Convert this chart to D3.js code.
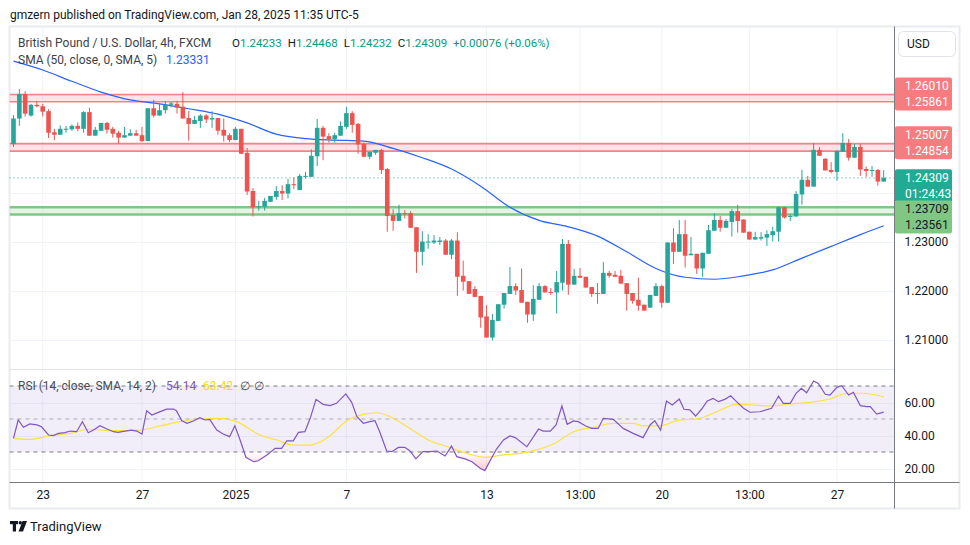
<!DOCTYPE html>
<html><head><meta charset="utf-8">
<script src="https://cdn.jsdelivr.net/npm/d3@7"></script>
<style>body{margin:0;background:#fff}svg{display:block;font-family:Roboto,"Liberation Sans",Arial,sans-serif}</style>
</head><body><svg id="c" width="970" height="545"></svg>
<script>
// ---------------- DATA ----------------
const opens = [1.2500,1.2552,1.2602,1.2558,1.2580,1.2577,1.2567,1.2524,1.2519,1.2529,
1.2530,1.2537,1.2531,1.2565,1.2517,1.2527,1.2543,1.2531,1.2523,1.2513,
1.2517,1.2522,1.2518,1.2506,1.2573,1.2558,1.2569,1.2580,1.2582,1.2576,
1.2553,1.2541,1.2547,1.2558,1.2550,1.2553,1.2529,1.2518,1.2508,1.2531,
1.2482,1.2404,1.2371,1.2372,1.2382,1.2392,1.2404,1.2399,1.2418,1.2406,
1.2433,1.2433,1.2475,1.2533,1.2516,1.2510,1.2517,1.2535,1.2563,1.2541,
1.2500,1.2474,1.2482,1.2488,1.2449,1.2355,1.2343,1.2359,1.2359,1.2330,
1.2280,1.2299,1.2299,1.2300,1.2303,1.2274,1.2303,1.2231,1.2220,1.2204,
1.2190,1.2148,1.2105,1.2139,1.2172,1.2194,1.2210,1.2202,1.2178,1.2152,
1.2182,1.2210,1.2198,1.2197,1.2217,1.2296,1.2213,1.2231,1.2229,1.2208,
1.2196,1.2194,1.2237,1.2233,1.2231,1.2216,1.2196,1.2182,1.2172,1.2166,
1.2190,1.2210,1.2176,1.2299,1.2280,1.2316,1.2273,1.2276,1.2246,1.2276,
1.2323,1.2345,1.2329,1.2341,1.2363,1.2346,1.2321,1.2305,1.2307,1.2309,
1.2314,1.2321,1.2371,1.2351,1.2352,1.2397,1.2427,1.2413,1.2488,1.2470,
1.2447,1.2443,1.2484,1.2502,1.2472,1.2494,1.2449,1.2445,1.2447,1.24233];
const highs = [1.2559,1.2612,1.2608,1.2582,1.2588,1.2582,1.2571,1.2531,1.2538,1.2537,
1.2540,1.2544,1.2567,1.2574,1.2535,1.2543,1.2545,1.2535,1.2527,1.2535,
1.2530,1.2529,1.2535,1.2573,1.2590,1.2582,1.2588,1.2586,1.2588,1.2606,
1.2567,1.2557,1.2561,1.2561,1.2567,1.2553,1.2552,1.2522,1.2535,1.2531,
1.2492,1.2410,1.2384,1.2390,1.2394,1.2414,1.2416,1.2429,1.2432,1.2439,
1.2443,1.2489,1.2551,1.2537,1.2522,1.2523,1.2546,1.2576,1.2567,1.2543,
1.2503,1.2484,1.2488,1.2490,1.2451,1.2367,1.2376,1.2365,1.2363,1.2330,
1.2322,1.2316,1.2314,1.2310,1.2306,1.2306,1.2320,1.2262,1.2220,1.2210,
1.2190,1.2171,1.2153,1.2173,1.2196,1.2249,1.2216,1.2246,1.2178,1.2212,
1.2216,1.2212,1.2206,1.2241,1.2306,1.2304,1.2245,1.2247,1.2229,1.2208,
1.2216,1.2259,1.2241,1.2241,1.2243,1.2216,1.2196,1.2227,1.2172,1.2192,
1.2216,1.2213,1.2299,1.2328,1.2345,1.2345,1.2310,1.2276,1.2278,1.2335,
1.2359,1.2353,1.2347,1.2367,1.2376,1.2346,1.2321,1.2321,1.2320,1.2324,
1.2331,1.2371,1.2371,1.2357,1.2404,1.2447,1.2435,1.2502,1.2494,1.2471,
1.2463,1.2486,1.2522,1.2510,1.2500,1.2500,1.2454,1.2455,1.2449,1.24468];
const lows = [1.2494,1.2537,1.2556,1.2556,1.2575,1.2556,1.2512,1.2508,1.2519,1.2523,
1.2527,1.2526,1.2523,1.2517,1.2517,1.2527,1.2521,1.2513,1.2501,1.2513,
1.2517,1.2517,1.2504,1.2506,1.2554,1.2558,1.2562,1.2575,1.2562,1.2552,
1.2507,1.2541,1.2533,1.2543,1.2533,1.2519,1.2505,1.2504,1.2508,1.2480,
1.2396,1.2352,1.2364,1.2364,1.2382,1.2386,1.2386,1.2389,1.2408,1.2406,
1.2430,1.2433,1.2455,1.2467,1.2503,1.2503,1.2517,1.2531,1.2523,1.2480,
1.2474,1.2469,1.2478,1.2439,1.2321,1.2323,1.2343,1.2348,1.2329,1.2237,
1.2252,1.2286,1.2296,1.2294,1.2274,1.2265,1.2190,1.2201,1.2194,1.2188,
1.2125,1.2105,1.2099,1.2139,1.2164,1.2194,1.2192,1.2176,1.2135,1.2139,
1.2182,1.2197,1.2192,1.2154,1.2201,1.2192,1.2213,1.2227,1.2207,1.2188,
1.2174,1.2194,1.2227,1.2229,1.2215,1.2160,1.2174,1.2160,1.2160,1.2166,
1.2190,1.2166,1.2176,1.2255,1.2280,1.2248,1.2273,1.2235,1.2229,1.2276,
1.2323,1.2321,1.2329,1.2311,1.2319,1.2319,1.2305,1.2305,1.2303,1.2292,
1.2301,1.2301,1.2348,1.2343,1.2352,1.2376,1.2413,1.2413,1.2476,1.2446,
1.2440,1.2425,1.2484,1.2466,1.2472,1.2435,1.2433,1.2433,1.2415,1.24232];
const closes = [1.2552,1.2602,1.2562,1.2580,1.2577,1.2566,1.2523,1.2519,1.2531,1.2531,
1.2537,1.2531,1.2565,1.2517,1.2529,1.2543,1.2529,1.2521,1.2513,1.2518,
1.2522,1.2517,1.2506,1.2573,1.2558,1.2569,1.2580,1.2583,1.2574,1.2552,
1.2541,1.2549,1.2558,1.2550,1.2553,1.2527,1.2517,1.2508,1.2531,1.2480,
1.2403,1.2371,1.2373,1.2384,1.2394,1.2404,1.2399,1.2418,1.2417,1.2435,
1.2435,1.2476,1.2533,1.2515,1.2510,1.2518,1.2537,1.2563,1.2539,1.2499,
1.2474,1.2484,1.2488,1.2447,1.2353,1.2343,1.2359,1.2357,1.2329,1.2280,
1.2301,1.2301,1.2303,1.2303,1.2274,1.2303,1.2229,1.2219,1.2194,1.2188,
1.2146,1.2105,1.2141,1.2173,1.2196,1.2210,1.2201,1.2176,1.2152,1.2184,
1.2210,1.2197,1.2197,1.2218,1.2296,1.2213,1.2231,1.2227,1.2207,1.2194,
1.2194,1.2237,1.2231,1.2229,1.2215,1.2194,1.2180,1.2170,1.2160,1.2192,
1.2210,1.2176,1.2299,1.2280,1.2316,1.2272,1.2276,1.2246,1.2278,1.2324,
1.2345,1.2329,1.2343,1.2363,1.2343,1.2319,1.2305,1.2310,1.2310,1.2316,
1.2322,1.2371,1.2350,1.2353,1.2398,1.2427,1.2413,1.2488,1.2476,1.2446,
1.2443,1.2486,1.2502,1.2472,1.2494,1.2448,1.2445,1.2447,1.24233,1.24309];

// SMA(50) at candle indices
const smaIdx = [0,5,10,15,20,25,30,35,40,45,50,55,60,65,70,75,80,85,90,95,100,105,110,115,120,125,130,135,140,145,149];
const smaVal = [1.2669,1.2651,1.2628,1.2606,1.2590,1.2582,1.2572,1.2561,1.2543,1.2520,1.2511,1.2508,1.2506,1.2491,1.2472,1.2449,1.2414,1.2371,1.2344,1.2331,1.2312,1.2280,1.2246,1.2228,1.2224,1.2231,1.2243,1.2267,1.2291,1.2315,1.23331];

const rsiIdx = [0,0.8,1.7,2.8,4,4.8,6,6.8,7.7,8.8,9.7,10.8,11.8,12.8,13.7,14.8,16,17.1,17.9,19.1,20.2,21.1,22,22.8,23.7,24.8,26.2,27.4,27.9,28.8,29.7,30.8,31.9,32.8,33.6,34.8,35.9,37,37.9,38.8,39.8,41.1,41.9,43.4,44.8,45.9,46.8,47.9,48.8,49.9,50.8,51.8,53,54.2,55.3,56.9,57.9,58.8,59.9,61,61.9,62.7,63.9,64.8,65.9,67,67.9,68.9,70.1,71.3,72.5,73.9,75,75.9,77.3,78.5,79.9,80.7,82.7,83.9,85,85.9,87.9,89.9,90.7,91.9,92.9,93.9,94.8,95.9,96.7,97.9,99,100.1,101,102.7,104.4,106.1,107.8,109,109.8,110.8,111.8,112.8,114,114.8,115.8,116.8,117.8,118.8,119.8,120.7,121.8,122.8,123.8,125,126.1,127.8,129.8,131,131.8,133,134,134.9,135.8,137,137.8,139,139.8,141,141.8,143,143.8,145,146.1,146.7,147.8,149];
const rsiVal = [38.3,49.4,45,47,46.4,45.3,40.3,39.9,41.3,41.7,42.7,42.3,48.4,41.7,43.3,45.9,43.9,42.3,41.9,42.7,43.3,42.7,40.9,55,52.4,54,56,56,55,49,47.4,48.8,50.8,49.4,49.8,43.3,40.9,39.3,45.9,37.3,26.8,24.1,24.7,28.2,32.2,32.2,36.8,36.8,41.9,42.3,50.4,61.9,58.9,58.1,59.5,65.2,60.1,51.4,47.4,48.4,49,42.3,30.6,30.2,32.8,32.8,30.6,25.8,30.2,30.2,30.6,27.6,33.6,27.2,25.8,24.1,20.1,18.7,31.8,37.3,39.7,38.7,33.2,43.9,42.7,42.7,46.4,57.9,46.8,48.8,48.4,45.9,44.3,44.3,50.4,49.8,44.3,41.3,38.7,46.4,49,43.3,60.9,58.5,62.1,55.9,55.5,51.8,55.9,60.9,62.5,60.5,61.9,64.1,60.5,56.5,54.1,54.4,56.5,63.9,59.5,59.5,65.6,68.6,65.9,73,71.6,65,64.5,69.2,70.2,64.5,66.2,58.1,57.5,57.5,53,54.14];
const rsiMaIdx = [0,2.8,6.3,9.7,13.1,16.5,21.7,25.1,28.5,31.9,35.4,38.2,42.2,45.1,47.9,50.8,53.6,57.1,59.9,62.2,64.5,67.9,71.3,74.7,77.6,80.7,83.9,88.4,92.4,95.9,99.3,102.7,106.1,107.8,110.7,113.6,117.5,120.4,123.8,126.7,129.5,133,136.4,139.8,142.7,145.5,149];
const rsiMaVal = [38.3,37.7,39.9,41.3,43.8,42.9,43.3,45.8,48.4,50,50.4,48.4,40.3,37.3,34.2,34.2,38.3,49,52.8,53.8,51.4,44.3,36.8,32.8,29.2,26.8,28.2,30.2,34.8,42.3,45,47.4,47.4,45.8,45.8,49,50.4,54.4,58.9,58.5,57.9,59.1,60.1,62.1,65.6,65.6,63.42];

// support / resistance zones
const zoneTop = [1.26010, 1.25007, 1.23709];
const zoneBot = [1.25861, 1.24854, 1.23561];
const zoneKind = ["res", "res", "sup"];

// axes
const priceTicks = [1.21, 1.22, 1.23];
const priceGrid = [1.21, 1.22, 1.23, 1.24, 1.25, 1.26];
const rsiTicks = [20, 40, 60];
const xTickIdx = [5, 22, 38, 57, 81, 97, 111, 126, 141];
const xTickLabels = ["23", "27", "2025", "7", "13", "13:00", "20", "13:00", "27"];
const smaLast = 1.23331;
const countdown = "01:24:43";

// ---------------- DRAW ----------------
const svg = d3.select("#c");
const N = closes.length;
const PL = 9.5, PR = 894.5, PT = 26.5, SEP = 369.5, XB = 482.5, FB = 508.5, FR = 959.5;
const UP = "#26a69a", DN = "#ef5350";
const F = 'Roboto,"Liberation Sans",Arial,sans-serif';

const xs = d3.scaleLinear().domain([0, 149]).range([13.5, 883.7]);
const yp = d3.scaleLinear().domain([1.21, 1.26]).range([340, 95]);
const yr = d3.scaleLinear().domain([30, 70]).range([452, 386]);

svg.append("rect").attr("width", 970).attr("height", 545).attr("fill", "#fff");

// header
svg.append("text").attr("x", 10).attr("y", 19).attr("font-size", 12).attr("fill", "#131722")
  .text("gmzern published on TradingView.com, Jan 28, 2025 11:35 UTC-5");

// frame
svg.append("rect").attr("x", PL).attr("y", PT).attr("width", FR - PL).attr("height", FB - PT)
  .attr("fill", "none").attr("stroke", "#e9ebf0").attr("stroke-width", 2);

const defs = svg.append("defs");
defs.append("clipPath").attr("id", "pc").append("rect").attr("x", PL).attr("y", PT).attr("width", PR - PL).attr("height", SEP - PT);
defs.append("clipPath").attr("id", "rc").append("rect").attr("x", PL).attr("y", SEP).attr("width", PR - PL).attr("height", XB - SEP);
defs.append("clipPath").attr("id", "below30").append("rect").attr("x", PL).attr("y", yr(30)).attr("width", PR - PL).attr("height", XB - yr(30));
defs.append("clipPath").attr("id", "above70").append("rect").attr("x", PL).attr("y", SEP).attr("width", PR - PL).attr("height", yr(70) - SEP);
const gLow = defs.append("linearGradient").attr("id", "gLow").attr("gradientUnits", "userSpaceOnUse")
  .attr("x1", 0).attr("x2", 0).attr("y1", yr(30)).attr("y2", yr(15));
gLow.append("stop").attr("offset", 0).attr("stop-color", "rgba(242,54,69,0)");
gLow.append("stop").attr("offset", 1).attr("stop-color", "rgba(242,54,69,0.35)");
const gHigh = defs.append("linearGradient").attr("id", "gHigh").attr("gradientUnits", "userSpaceOnUse")
  .attr("x1", 0).attr("x2", 0).attr("y1", yr(70)).attr("y2", yr(85));
gHigh.append("stop").attr("offset", 0).attr("stop-color", "rgba(8,153,129,0)");
gHigh.append("stop").attr("offset", 1).attr("stop-color", "rgba(8,153,129,0.35)");

// vertical grid
svg.append("g").selectAll("line").data(xTickIdx).join("line")
  .attr("x1", d => xs(d)).attr("x2", d => xs(d)).attr("y1", PT).attr("y2", XB)
  .attr("stroke", "#f0f3fa").attr("stroke-width", 1);
// horizontal price grid
svg.append("g").selectAll("line").data(priceGrid).join("line")
  .attr("x1", PL).attr("x2", PR).attr("y1", d => Math.round(yp(d)) + 0.5).attr("y2", d => Math.round(yp(d)) + 0.5)
  .attr("stroke", "#f0f3fa");
// rsi grid
svg.append("g").selectAll("line").data(rsiTicks).join("line")
  .attr("x1", PL).attr("x2", PR).attr("y1", d => Math.round(yr(d)) + 0.5).attr("y2", d => Math.round(yr(d)) + 0.5)
  .attr("stroke", "#f0f3fa");

// pane separator
svg.append("line").attr("x1", PL).attr("x2", PR).attr("y1", SEP).attr("y2", SEP).attr("stroke", "#e0e3eb");

// zones
const zg = svg.append("g").attr("clip-path", "url(#pc)");
zoneTop.forEach((t, k) => {
  const res = zoneKind[k] === "res";
  const y1 = yp(t), y2 = yp(zoneBot[k]);
  zg.append("rect").attr("x", PL).attr("width", PR - PL).attr("y", y1).attr("height", y2 - y1)
    .attr("fill", res ? "rgba(242,54,69,0.13)" : "rgba(76,175,80,0.14)");
  [y1, y2].forEach(y => zg.append("line").attr("x1", PL).attr("x2", PR).attr("y1", y).attr("y2", y)
    .attr("stroke", res ? "#f28387" : "#81c784").attr("stroke-width", res ? 1.6 : 2.4));
});

// last price dotted line
const lastC = closes[N - 1];
svg.append("line").attr("x1", PL).attr("x2", PR).attr("y1", yp(lastC)).attr("y2", yp(lastC))
  .attr("stroke", "#22ab94").attr("stroke-width", 1).attr("stroke-dasharray", "1,3");

// SMA line
svg.append("path").attr("clip-path", "url(#pc)")
  .datum(smaIdx.map((d, k) => [d, smaVal[k]]))
  .attr("fill", "none").attr("stroke", "#2962ff").attr("stroke-width", 1.2)
  .attr("d", d3.line().x(d => xs(d[0])).y(d => yp(d[1])).curve(d3.curveMonotoneX));

// candles
const cg = svg.append("g").attr("clip-path", "url(#pc)");
const idx = d3.range(N);
const bw = 4.6;
cg.selectAll("line.w").data(idx).join("line").attr("class", "w")
  .attr("x1", i => xs(i)).attr("x2", i => xs(i))
  .attr("y1", i => yp(highs[i])).attr("y2", i => yp(lows[i]))
  .attr("stroke", i => closes[i] >= opens[i] ? UP : DN).attr("stroke-width", 1);
cg.selectAll("rect.b").data(idx).join("rect").attr("class", "b")
  .attr("x", i => xs(i) - bw / 2).attr("width", bw)
  .attr("y", i => yp(Math.max(opens[i], closes[i])))
  .attr("height", i => Math.max(1, Math.abs(yp(opens[i]) - yp(closes[i]))))
  .attr("fill", i => closes[i] >= opens[i] ? UP : DN);

// legends
const chg = closes[N - 1] - closes[N - 2];
const pct = chg / closes[N - 2] * 100;
const lg = svg.append("text").attr("y", 46.5).attr("font-size", 11.5).attr("fill", "#131722");
lg.append("tspan").attr("x", 18).attr("font-size", 12).attr("fill", "#3b3f4a").text("British Pound / U.S. Dollar, 4h, FXCM");
[["O", opens[N - 1]], ["H", highs[N - 1]], ["L", lows[N - 1]], ["C", closes[N - 1]]].forEach((p, k) => {
  const t = lg.append("tspan").text(p[0]);
  if (k === 0) t.attr("x", 232); else t.attr("dx", 6);
  lg.append("tspan").attr("fill", "#089981").text(d3.format(".5f")(p[1]));
});
lg.append("tspan").attr("dx", 6).attr("fill", "#089981")
  .text((chg >= 0 ? "+" : "") + d3.format(".5f")(chg) + " (" + (pct >= 0 ? "+" : "") + d3.format(".2f")(pct) + "%)");

const sl = svg.append("text").attr("y", 63.5).attr("font-size", 12).attr("fill", "#3b3f4a");
sl.append("tspan").attr("x", 18).text("SMA (50, close, 0, SMA, 5)");
sl.append("tspan").attr("x", 166).attr("fill", "#2962ff").text(d3.format(".5f")(smaLast));

// ---- RSI pane ----
const rg = svg.append("g").attr("clip-path", "url(#rc)");
rg.append("rect").attr("x", PL).attr("width", PR - PL).attr("y", yr(70)).attr("height", yr(30) - yr(70))
  .attr("fill", "rgba(126,87,194,0.1)");
const rsiPts = rsiIdx.map((d, k) => [d, rsiVal[k]]);
rg.append("path").datum(rsiPts).attr("clip-path", "url(#below30)").attr("fill", "url(#gLow)")
  .attr("d", d3.area().x(d => xs(d[0])).y0(yr(30)).y1(d => yr(d[1])));
rg.append("path").datum(rsiPts).attr("clip-path", "url(#above70)").attr("fill", "url(#gHigh)")
  .attr("d", d3.area().x(d => xs(d[0])).y0(yr(70)).y1(d => yr(d[1])));
[[70, "#787b86", 1], [50, "#a8abb4", 1], [30, "#787b86", 1]].forEach(b => {
  rg.append("line").attr("x1", PL).attr("x2", PR).attr("y1", yr(b[0])).attr("y2", yr(b[0]))
    .attr("stroke", b[1]).attr("stroke-dasharray", "4,4").attr("stroke-width", b[2]);
});
rg.append("path").datum(rsiMaIdx.map((d, k) => [d, rsiMaVal[k]]))
  .attr("fill", "none").attr("stroke", "#fbe33c").attr("stroke-width", 1.2)
  .attr("d", d3.line().x(d => xs(d[0])).y(d => yr(d[1])).curve(d3.curveMonotoneX));
rg.append("path").datum(rsiPts)
  .attr("fill", "none").attr("stroke", "#7e57c2").attr("stroke-width", 1.2)
  .attr("d", d3.line().x(d => xs(d[0])).y(d => yr(d[1])));

const rl = svg.append("text").attr("y", 389.5).attr("font-size", 12).attr("fill", "#4a4e5a");
rl.append("tspan").attr("x", 18).attr("textLength", 138).attr("lengthAdjust", "spacing").text("RSI (14, close, SMA, 14, 2)");
rl.append("tspan").attr("x", 166).attr("fill", "#7e57c2").text(d3.format(".2f")(rsiVal[rsiVal.length - 1]));
rl.append("tspan").attr("x", 203).attr("fill", "#f5d90a").text(d3.format(".2f")(rsiMaVal[rsiMaVal.length - 1]));
rl.append("tspan").attr("x", 240).text("∅");
rl.append("tspan").attr("x", 254).text("∅");

// ---- axes ----
svg.append("line").attr("x1", PL).attr("x2", FR).attr("y1", XB).attr("y2", XB).attr("stroke", "#787b86");
svg.append("line").attr("x1", PR).attr("x2", PR).attr("y1", PT).attr("y2", FB).attr("stroke", "#787b86");

const xAxis = d3.axisBottom(xs).tickValues(xTickIdx).tickSize(0).tickPadding(8)
  .tickFormat((d, k) => xTickLabels[k]);
const gx = svg.append("g").attr("transform", `translate(0,${XB})`).call(xAxis);
gx.select(".domain").remove();
gx.selectAll("text").attr("font-size", 12).attr("font-family", F).attr("fill", "#131722");

const pAxis = d3.axisRight(yp).tickValues(priceTicks).tickSize(0).tickPadding(10).tickFormat(d3.format(".5f"));
const gp = svg.append("g").attr("transform", `translate(${PR},0)`).call(pAxis);
gp.select(".domain").remove();
gp.selectAll("text").attr("font-size", 12).attr("font-family", F).attr("fill", "#131722");

const rAxis = d3.axisRight(yr).tickValues(rsiTicks).tickSize(0).tickPadding(10).tickFormat(d3.format(".2f"));
const gr = svg.append("g").attr("transform", `translate(${PR},0)`).call(rAxis);
gr.select(".domain").remove();
gr.selectAll("text").attr("font-size", 12).attr("font-family", F).attr("fill", "#131722");

// USD box
svg.append("rect").attr("x", 898.5).attr("y", 31.5).attr("width", 57).attr("height", 25).attr("rx", 5)
  .attr("fill", "#fff").attr("stroke", "#e0e3eb");
svg.append("text").attr("x", 907).attr("y", 48).attr("font-size", 12).attr("fill", "#131722").text("USD");

// price labels on axis
const labels = [
  {vals: [d3.format(".5f")(zoneTop[0]), d3.format(".5f")(zoneBot[0])], y0: yp(zoneTop[0]) - 8.5, bg: "#f77c80", fg: "#fff"},
  {vals: [d3.format(".5f")(zoneTop[1]), d3.format(".5f")(zoneBot[1])], y0: yp(zoneTop[1]) - 9, bg: "#f77c80", fg: "#fff"},
  {vals: [d3.format(".5f")(lastC), countdown], y0: yp(lastC), bg: "#22ab94", fg: "#fff"},
  {vals: [d3.format(".5f")(zoneTop[2]), d3.format(".5f")(zoneBot[2])], y0: yp(zoneTop[2]) + 1.7, bg: "#81c784", fg: "#131722"}
];
labels.forEach(L => {
  const top = L.y0 - 8.5, h = (L.vals.length - 1) * 16 + 17;
  svg.append("rect").attr("x", PR + 0.5).attr("y", top).attr("width", 57).attr("height", h).attr("rx", 2).attr("fill", L.bg);
  L.vals.forEach((v, k) => svg.append("text").attr("x", 905).attr("y", L.y0 + k * 16 + 4.3)
    .attr("font-size", 12).attr("fill", L.fg).text(v));
});

// TradingView logo
const lgo = svg.append("g").attr("fill", "#131722");
lgo.append("rect").attr("x", 10).attr("y", 521).attr("width", 8).attr("height", 3.2);
lgo.append("rect").attr("x", 12.8).attr("y", 521).attr("width", 3.2).attr("height", 10.5);
lgo.append("circle").attr("cx", 20.3).attr("cy", 522.7).attr("r", 1.7);
lgo.append("path").attr("d", "M22.5,521 L27,521 L23,531.5 L18.6,531.5 Z");
svg.append("text").attr("x", 30).attr("y", 531).attr("font-size", 13).attr("fill", "#131722").text("TradingView");
</script></body></html>
